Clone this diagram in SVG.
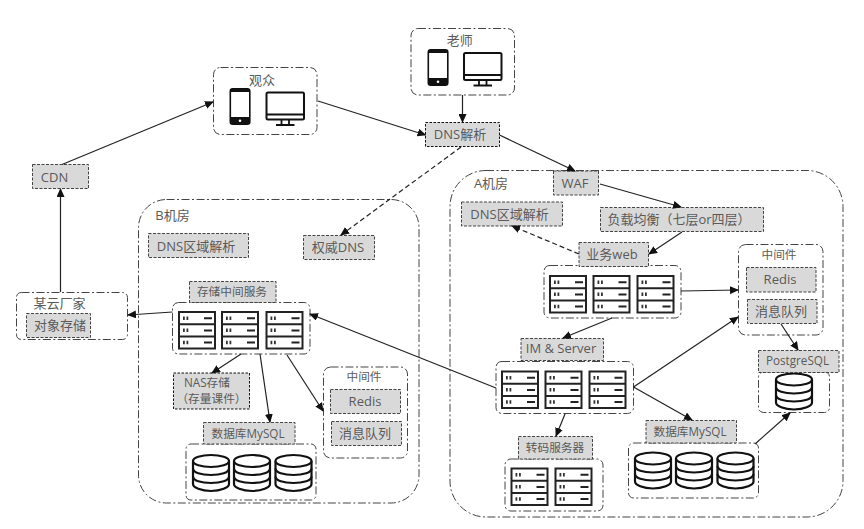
<svg xmlns="http://www.w3.org/2000/svg" width="864" height="529" viewBox="0 0 864 529">
<style>
text{font-family:"Open Sans","Noto Sans CJK SC",sans-serif;font-size:13px;fill:#5a5a5a;text-anchor:middle}
.s{font-size:11.700px}
.box{fill:#fff;stroke:#444;stroke-width:1;stroke-dasharray:8 2.500 2 2.500}
.lab{fill:#d9d9d9;stroke:#444;stroke-width:1;stroke-dasharray:3 1.500}
.dk{stroke:#111;stroke-dasharray:2.500 1.500}
.c{fill:none;stroke:#222;stroke-width:1.200;marker-end:url(#a)}
.d{stroke-dasharray:5 3}
</style>
<defs>
<marker id="a" markerWidth="9" markerHeight="8" refX="8" refY="4" orient="auto" markerUnits="userSpaceOnUse"><path d="M0 0L9 4L0 8Z" fill="#111"/></marker>
<g id="rack">
<rect x="1" y="1" width="36" height="36.500" fill="#fff" stroke="#222" stroke-width="2"/>
<path d="M1 13.300H37M1 25.600H37" stroke="#222" stroke-width="2" fill="none"/>
<path d="M5 5.500h1.800v3.500H5zM8.500 5.500h1.800v3.500H8.500zM5 17.500h1.800v3.500H5zM8.500 17.500h1.800v3.500H8.500zM5 29.800h1.800v3.500H5zM8.500 29.800h1.800v3.500H8.500z" fill="#333"/>
<path d="M26 7.200h8M26 19.400h8M26 31.600h8" stroke="#222" stroke-width="2" fill="none"/>
</g>
<g id="db" fill="#fff" stroke="#111" stroke-width="2.200">
<path d="M1 7V30C1 33.500 9 37 19 37S37 33.500 37 30V7"/>
<ellipse cx="19" cy="7" rx="18" ry="6"/>
<path d="M1 14.500C1 18.500 9 21 19 21S37 18.500 37 14.500M1 22.500C1 26.500 9 29 19 29S37 26.500 37 22.500" fill="none"/>
</g>
<g id="phone">
<rect x="0.800" y="0.800" width="19.500" height="35.500" rx="2.500" fill="#fff" stroke="#111" stroke-width="1.600"/>
<path d="M0.800 29H20.300V34a2.300 2.300 0 0 1-2.300 2.300H3a2.300 2.300 0 0 1-2.300-2.300Z" fill="#111"/>
<path d="M0.800 4H20.300V3a2.300 2.300 0 0 0-2.300-2.300H3A2.300 2.300 0 0 0 0.800 3Z" fill="#111"/>
<circle cx="10.500" cy="32.700" r="1.300" fill="#fff"/>
</g>
<g id="mon" fill="none" stroke="#111">
<rect x="1" y="1" width="37.500" height="27" rx="1.500" fill="#fff" stroke-width="2"/>
<path d="M1 23H38.500" stroke-width="1.800"/>
<path d="M16 28.500V33M23.500 28.500V33" stroke-width="1.800"/>
<path d="M10.500 33.500H29" stroke-width="2"/>
</g>
</defs>

<g id="room-b"><rect class="box" x="138.500" y="199.500" width="280.500" height="303.500" rx="28"/><text x="172.500" y="220">B机房</text></g>
<g id="room-a"><rect class="box" x="450" y="170.500" width="393" height="346.500" rx="36"/><text x="491" y="188">A机房</text></g>

<g id="viewer"><rect class="box" x="213.500" y="67.500" width="103.500" height="67" rx="7"/><text x="262" y="85">观众</text><use href="#phone" x="229.500" y="88"/><use href="#mon" x="265.500" y="91.500"/></g>
<g id="teacher"><rect class="box" x="411" y="28.500" width="103.500" height="66.500" rx="7"/><text x="459.700" y="45">老师</text><use href="#phone" x="427.500" y="49"/><use href="#mon" x="463" y="52"/></g>
<g id="dns"><rect class="lab dk" x="425.500" y="122.500" width="74" height="24"/><text x="460" y="139">DNS解析</text></g>
<g id="cdn"><rect class="lab" x="32.500" y="164.500" width="56" height="24"/><text x="54.500" y="181.500">CDN</text></g>
<g id="waf"><rect class="lab" x="553.500" y="171" width="45" height="24"/><text x="575" y="188">WAF</text></g>
<g id="dns-zone-a"><rect class="lab" x="461.500" y="202" width="101" height="24"/><text x="509.500" y="219">DNS区域解析</text></g>
<g id="lb"><rect class="lab" x="600.500" y="207.500" width="163" height="24"/><text x="679" y="224">负载均衡（七层or四层）</text></g>
<g id="dns-zone-b"><rect class="lab" x="148.500" y="233.500" width="100" height="24"/><text x="196" y="251">DNS区域解析</text></g>
<g id="auth-dns"><rect class="lab" x="303.500" y="235.500" width="71" height="24"/><text x="338" y="252">权威DNS</text></g>

<g id="web"><rect class="box" x="544" y="265.500" width="137" height="52.500" rx="6"/><use href="#rack" x="549" y="275"/><use href="#rack" x="592.500" y="275"/><use href="#rack" x="636.500" y="275"/><rect class="lab" x="579" y="242.500" width="69.500" height="24"/><text x="612" y="259">业务web</text></g>

<g id="mw-a"><rect class="box" x="738.500" y="244.500" width="84.500" height="90.500" rx="7"/><text class="s" x="779" y="259">中间件</text><rect class="lab" x="746.500" y="267.500" width="69.500" height="24.500"/><text x="780" y="284">Redis</text><rect class="lab" x="747.500" y="299.500" width="69.500" height="24"/><text x="781" y="316">消息队列</text></g>

<g id="pg"><rect class="box" x="758.500" y="372" width="71" height="40.500" rx="5"/><use href="#db" x="775" y="372.500"/><rect class="lab" x="758.500" y="350.500" width="80.500" height="22"/><text class="s" x="797.500" y="365">PostgreSQL</text></g>

<g id="im"><rect class="box" x="496" y="361.500" width="137.500" height="52" rx="6"/><use href="#rack" x="501" y="370.500"/><use href="#rack" x="544.500" y="370.500"/><use href="#rack" x="588.500" y="370.500"/><rect class="lab" x="521" y="338.500" width="82.500" height="22"/><text x="561" y="353">IM &amp; Server</text></g>

<g id="transcode"><rect class="box" x="505" y="459" width="98" height="52" rx="6"/><use href="#rack" x="510.500" y="467.500"/><use href="#rack" x="554.500" y="467.500"/><rect class="lab" x="518.500" y="436.500" width="74" height="22.500"/><text class="s" x="555" y="452">转码服务器</text></g>

<g id="mysql-a"><rect class="box" x="628.500" y="443" width="130" height="55" rx="5"/><use href="#db" x="634" y="451.500"/><use href="#db" x="675" y="451.500"/><use href="#db" x="716.500" y="451.500"/><rect class="lab" x="646" y="420.500" width="90.500" height="22.500"/><text class="s" x="690" y="436">数据库MySQL</text></g>

<g id="storage"><rect class="box" x="172.500" y="302.500" width="137.500" height="51.500" rx="6"/><use href="#rack" x="178" y="311"/><use href="#rack" x="221" y="311"/><use href="#rack" x="265.500" y="311"/><rect class="lab" x="189.500" y="281.500" width="86.500" height="21"/><text class="s" x="232" y="296">存储中间服务</text></g>

<g id="vendor"><rect class="box" x="16.500" y="292.500" width="111" height="47" rx="5"/><text x="59.500" y="308">某云厂家</text><rect class="lab" x="26.500" y="313.500" width="64" height="24"/><text x="60" y="330">对象存储</text></g>

<g id="nas"><rect class="lab dk" x="173.500" y="373" width="76" height="36"/><text class="s" x="207" y="387">NAS存储</text><text class="s" x="211.500" y="403">（存量课件）</text></g>

<g id="mysql-b"><rect class="box" x="186" y="444" width="130" height="56" rx="5"/><use href="#db" x="192" y="454"/><use href="#db" x="233" y="454"/><use href="#db" x="274.500" y="454"/><rect class="lab" x="203.500" y="422.500" width="91.500" height="21.500"/><text class="s" x="248" y="438">数据库MySQL</text></g>

<g id="mw-b"><rect class="box" x="323.500" y="367" width="84" height="91" rx="7"/><text class="s" x="364" y="381">中间件</text><rect class="lab" x="330.500" y="389.500" width="70" height="24"/><text x="365" y="406">Redis</text><rect class="lab" x="331.500" y="421.500" width="70" height="24"/><text x="365" y="438">消息队列</text></g>

<g id="connectors">
<path class="c" d="M62 164.500L213 102"/>
<path class="c" d="M318 101L425.500 135"/>
<path class="c" d="M60.500 292V189"/>
<path class="c" d="M462.500 95V122"/>
<path class="c" d="M499.500 135L575 171"/>
<path class="c d" d="M461 147L341 235"/>
<path class="c" d="M600 184L681 207"/>
<path class="c" d="M682 232L649 254"/>
<path class="c d" d="M579 254L512 226"/>
<path class="c" d="M681 291L738 290"/>
<path class="c" d="M612 318L563 338"/>
<path class="c" d="M496 388L310 314"/>
<path class="c" d="M633.500 387L738 317"/>
<path class="c" d="M633.500 387L692 420"/>
<path class="c" d="M565 414L556 436"/>
<path class="c" d="M781 324L798 350"/>
<path class="c" d="M755 444L790 413"/>
<path class="c" d="M172.500 312L128 315"/>
<path class="c" d="M241 354L212 373"/>
<path class="c" d="M260 354L270 422"/>
<path class="c" d="M287 355L323 411"/>
</g>
</svg>
